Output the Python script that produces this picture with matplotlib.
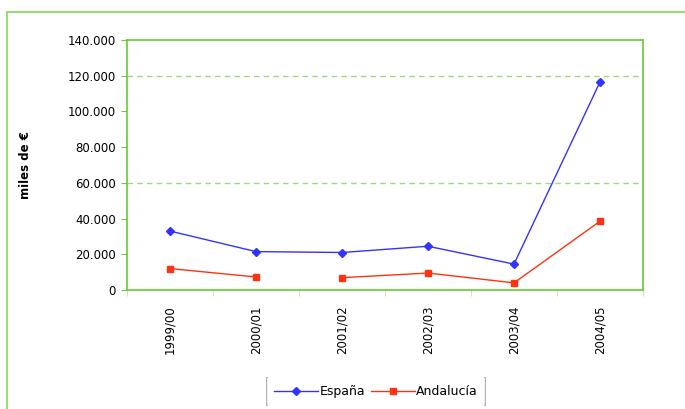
import matplotlib
matplotlib.use("Agg")
import matplotlib.pyplot as plt
from matplotlib.patches import Rectangle
from matplotlib.lines import Line2D
from matplotlib.ticker import FuncFormatter, FixedLocator

categories = ["1999/00", "2000/01", "2001/02", "2002/03", "2003/04", "2004/05"]
espana = [33000, 21500, 21000, 24500, 14500, 116500]
andalucia = [12000, 7300, 6900, 9500, 4000, 38500]
yticks = [0, 20000, 40000, 60000, 80000, 100000, 120000, 140000]

plt.rcParams['font.family'] = ['DejaVu Sans']

fig = plt.figure(figsize=(6.85, 4.09), dpi=100)
W, H = 685, 409
green = '#66cc33'

# outer frame
fig.patches.append(Rectangle((7 / W, -0.05), 1.2, (H - 12) / H + 0.05, transform=fig.transFigure,
                             fill=False, edgecolor='#99dd77', linewidth=1.5))

ax = fig.add_axes([127 / W, 1 - 290 / H, (643 - 127) / W, (290 - 40) / H])
x = list(range(len(categories)))

ax.plot(x, espana, color='#3333ff', marker='D', markersize=4.5, linewidth=1.0, label='España')
# Andalucía drawn with a visible gap between 2000/01 and 2001/02 as in the reference
ax.plot(x[:2], andalucia[:2], color='#ff3311', marker='s', markersize=5, linewidth=1.0, label='Andalucía')
ax.plot(x[2:], andalucia[2:], color='#ff3311', marker='s', markersize=5, linewidth=1.0)

ax.set_xlim(-0.5, len(categories) - 0.5)
ax.set_ylim(0, 140000)
ax.set_yticks(yticks)
ax.yaxis.set_major_formatter(FuncFormatter(lambda v, p: f"{int(v):,}".replace(",", ".")))
for g in [60000, 120000]:
    ax.axhline(g, color='#99dd77', linestyle=(0, (4, 3)), linewidth=1.0, zorder=0)

ax.set_xticks(x)
ax.set_xticklabels(categories, rotation=90, fontsize=8.5)
ax.xaxis.set_minor_locator(FixedLocator([i + 0.5 for i in range(-1, len(categories))]))
ax.tick_params(axis='x', which='major', length=0, pad=11)
ax.tick_params(axis='x', which='minor', length=4, color='#bbe8a8', direction='out')
ax.tick_params(axis='y', labelsize=8.5, length=4, color=green, direction='out', pad=4)
for s in ax.spines.values():
    s.set_color(green)
    s.set_linewidth(1.2)

ax.set_ylabel('miles de €', fontsize=8.5, fontweight='bold')
ax.yaxis.set_label_coords(-95 / (643 - 127), 0.5)

leg = fig.legend(loc='upper center', bbox_to_anchor=(376 / W, 1 - 372 / H), ncol=2, fontsize=9,
                 frameon=True, fancybox=False, edgecolor='none', handlelength=3.5,
                 columnspacing=0.45, handletextpad=0.15, borderpad=0.55)

# only the side edges of the legend box are visible in the reference
fig.canvas.draw()
bb = leg.get_window_extent().transformed(fig.transFigure.inverted())
for xe in (bb.x0, bb.x1):
    fig.add_artist(Line2D([xe, xe], [bb.y0, bb.y1], transform=fig.transFigure,
                          color='#aaaaaa', linewidth=1.3))

fig.savefig('out.png', dpi=100)
